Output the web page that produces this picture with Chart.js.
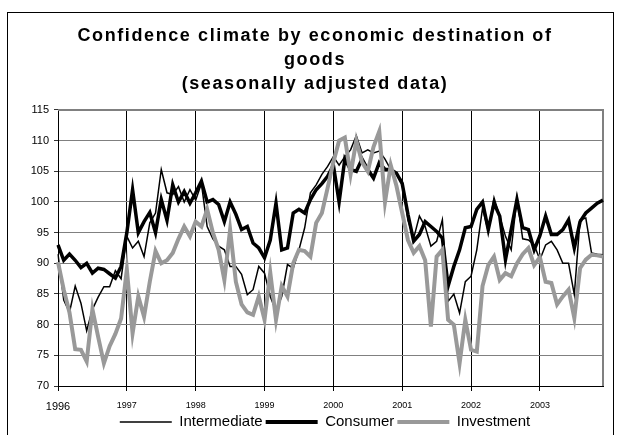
<!DOCTYPE html>
<html><head><meta charset="utf-8">
<script src="https://cdn.jsdelivr.net/npm/chart.js@4.4.0/dist/chart.umd.min.js"></script>
<style>
html,body{margin:0;padding:0;background:#fff;overflow:hidden;}
#frame{position:absolute;left:7px;top:12px;width:607px;height:440px;border:1px solid #000;box-sizing:border-box;}
#wrap{position:absolute;left:0;top:0;width:621px;height:435px;}
</style></head><body>
<div id="frame"></div>
<div id="wrap"><canvas id="c" width="621" height="435"></canvas></div>
<script>
const years = ['1996','1997','1998','1999','2000','2001','2002','2003'];
const seriesNames = ['Intermediate','Consumer','Investment'];
const titleLines = ['Confidence climate by economic destination of','goods','(seasonally adjusted data)'];

const intermediate = [
  91.5,84,82,86.3,83.5,79,82.5,84.5,86.2,86.2,88.8,87.5,
  94.4,92.5,93.6,91.1,96.6,98.2,105.3,101.5,101.2,102.5,100,102,
  100.3,103,96,94,92.8,92.2,89.5,89.5,88.2,84.9,85.7,89.5,
  88.4,84.6,82.2,84.6,89.8,89.2,92.2,95.8,101.5,102.8,104.5,105.8,
  107.4,106,107.4,108.5,110.8,108,108.5,108,108.3,107,105.3,104.5,
  103.5,97,94.1,97.7,96,92.8,93.6,97.1,83.8,85,81.9,87,
  87.9,92.2,99,95.2,100.7,97.7,94.4,92.2,100.7,94,93.8,93,
  90.6,93,93.6,92.2,90,90,84.9,97.1,97.4,91.7,91.5,91.4
];
const consumer = [
  93,90.5,91.5,90.5,89.3,90,88.4,89.2,89,88.3,87.6,89.5,
  95,102,95,96.8,98.3,95,100.4,97,102.8,100,101.7,99.8,
  101.5,103.4,100,100.4,99.6,96.8,100,98,95.5,96,93.3,92.5,
  90.9,93.8,99.8,92.2,92.5,98.2,98.8,98.2,100.4,102,103,104.2,
  106,100,107,105.3,105,107,105.3,103.9,106.4,105.3,105.3,104.7,
  103,98,93.6,94.7,96.8,96,95.2,94.1,86.3,89.5,92.2,95.8,
  96,98.8,100,95.5,99.8,97.7,90.6,95.5,100.4,95.8,95.5,92.2,
  94.5,97.7,94.7,94.7,95.5,97.1,92.5,96.8,98.2,99,99.8,100.3
];
const investment = [
  90.2,85.7,82,76,75.9,74,82.5,78,73.7,76.5,78.5,81,
  89,78.6,84.6,81.3,87,92,90,90.5,91.7,94,96,94.4,
  96.8,96,98.8,95,92.2,87.3,95.5,87,83.3,82,81.6,84.6,
  80.8,88.5,80.8,86.3,84.6,90,92.2,92,91.1,96.6,98.2,102.3,
  106.5,110,110.5,104.5,110,106.5,105,109,111.5,100,106,102.6,
  98.2,93.8,91.7,92.8,90.5,79.7,91.1,92.2,80.8,80,73.7,80.8,
  75.9,75.6,86.3,89.7,91.1,87.3,88.4,87.9,90,91.5,92.5,89.7,
  91,87,86.8,83.3,84.6,85.7,81.1,89.2,90.6,91.4,91.3,91.1
];

const months = [];
years.forEach(y => { for (let m = 1; m <= 12; m++) months.push(y + '-' + (m < 10 ? '0' + m : m)); });

const FONT = "'Liberation Sans', Arial, sans-serif";
const styles = [
  { color: '#000000', width: 1.5 },
  { color: '#000000', width: 3.5 },
  { color: '#999999', width: 4 }
];
const values = [intermediate, consumer, investment];

const framePlugin = {
  id: 'framePlugin',
  afterLayout(chart) {
    const t = chart.titleBlock;
    if (t && !t._spaced) {
      const orig = t.draw;
      t.draw = function (a) {
        const c = chart.ctx; c.save(); c.letterSpacing = '1.6px'; orig.call(this, a); c.restore();
      };
      t._spaced = true;
    }
    const l = chart.legend;
    if (l) { l.left += 10; l.right += 10; l.top += 4.5; l.bottom += 4.5; }
    const x = chart.scales.x;
    if (x) { x.bottom = chart.height; }
  },
  beforeDatasetsDraw(chart) {
    const { ctx, chartArea: a } = chart;
    ctx.save();
    ctx.strokeStyle = '#808080';
    ctx.lineWidth = 2;
    ctx.beginPath();
    ctx.moveTo(a.left, a.top);
    ctx.lineTo(a.right, a.top);
    ctx.lineTo(a.right, a.bottom);
    ctx.stroke();
    ctx.restore();
  },
  afterDraw(chart) {
    // legend box with white background (overlaps lower part of the year labels)
    const { ctx } = chart;
    ctx.save();
    ctx.fillStyle = '#ffffff';
    ctx.fillRect(114, 408.5, 434, 26.5);
    ctx.restore();
    chart.legend.draw();
  }
};

new Chart(document.getElementById('c'), {
  type: 'line',
  data: {
    labels: months,
    datasets: seriesNames.map((n, k) => ({
      label: n,
      data: values[k],
      borderColor: styles[k].color,
      backgroundColor: styles[k].color,
      borderWidth: styles[k].width,
      pointRadius: 0,
      tension: 0,
      fill: false,
      order: 2 - k
    }))
  },
  options: {
    responsive: false,
    animation: false,
    layout: { padding: { left: 27, right: 18, top: 0, bottom: 0 } },
    plugins: {
      tooltip: { enabled: false },
      title: {
        display: true,
        text: titleLines,
        color: '#000',
        font: { family: FONT, size: 18, weight: 'bold', lineHeight: 1.3333 },
        padding: { top: 24, bottom: 14 }
      },
      legend: {
        position: 'bottom',
        labels: {
          usePointStyle: true,
          pointStyleWidth: 52,
          padding: 3,
          color: '#000',
          font: { family: FONT, size: 15 },
          generateLabels: () => seriesNames.map((n, k) => ({
            text: n,
            strokeStyle: styles[k].color,
            fillStyle: styles[k].color,
            lineWidth: k === 0 ? 1.5 : 4,
            pointStyle: 'line',
            hidden: false,
            datasetIndex: k,
            fontColor: '#000'
          }))
        }
      }
    },
    scales: {
      x: {
        type: 'category',
        offset: false,
        afterFit: s => { s.height = 21; },
        grid: {
          offset: false,
          color: '#000',
          lineWidth: 1,
          borderDash: [6, 4],
          drawTicks: true,
          tickLength: 5,
          tickColor: '#000',
          tickBorderDash: [],
          tickWidth: 1
        },
        border: { display: true, color: '#000', width: 1 },
        ticks: {
          autoSkip: false,
          maxRotation: 0,
          minRotation: 0,
          padding: 9,
          color: '#000',
          font: ctx => ({ family: FONT, size: ctx.index === 0 ? 11 : 9 }),
          callback: (v, i) => (i % 12 === 0 ? years[i / 12] : null)
        }
      },
      y: {
        min: 70,
        max: 115,
        afterFit: s => { s.width = 31; },
        grid: {
          color: '#808080',
          lineWidth: 1,
          borderDash: [6, 4],
          tickLength: 4,
          tickColor: '#333',
          tickBorderDash: []
        },
        border: { display: true, color: '#000', width: 1 },
        ticks: {
          stepSize: 5,
          padding: 5,
          color: '#000',
          font: { family: FONT, size: 11 }
        }
      }
    }
  },
  plugins: [framePlugin]
});
</script>
</body></html>
